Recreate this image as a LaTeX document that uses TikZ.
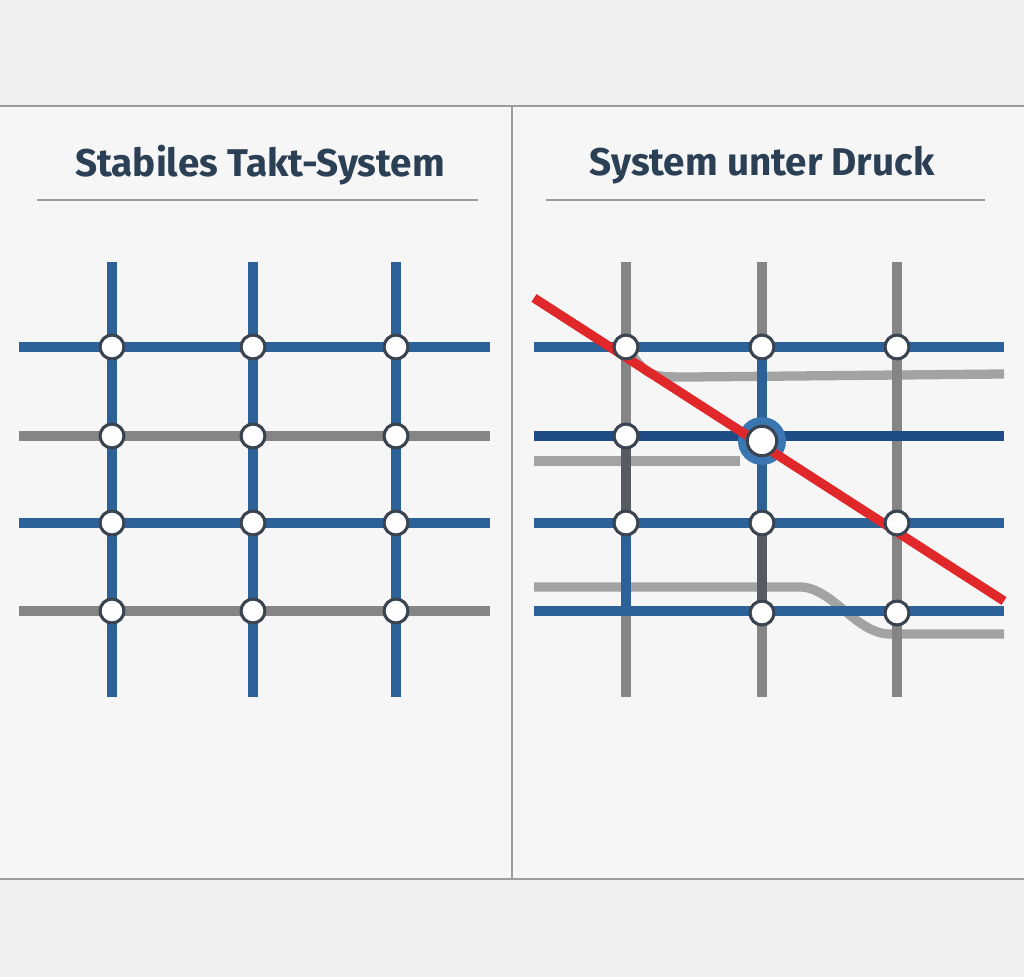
\documentclass[tikz,border=0pt]{standalone}
\usepackage{fontspec}
\setmainfont{Fira Sans}
\usetikzlibrary{positioning}
\definecolor{bandgray}{HTML}{EFEFEF}
\definecolor{panelgray}{HTML}{F6F6F6}
\definecolor{framegray}{HTML}{9C9C9C}
\definecolor{titlenavy}{HTML}{2B3F55}
\definecolor{lineblue}{HTML}{2D6298}
\definecolor{deepblue}{HTML}{1F4C84}
\definecolor{halo}{HTML}{3A76B2}
\definecolor{linegray}{HTML}{858585}
\definecolor{softgray}{HTML}{A3A3A3}
\definecolor{darkgray}{HTML}{565B62}
\definecolor{ringgray}{HTML}{3A4450}
\definecolor{alarm}{HTML}{E0282A}
\tikzset{
  track/.style={line width=6.6pt},
  station/.style={circle,fill=white,draw=ringgray,line width=2.2pt,minimum size=17pt,inner sep=0pt},
  title/.style={text=titlenavy,font=\fontsize{27.5}{32}\selectfont\bfseries},
  rule/.style={draw=framegray,line width=1pt}
}
\begin{document}
\begin{tikzpicture}[x=0.025cm,y=-0.025cm]
  \useasboundingbox (0,0) rectangle (1024,977);
  % background and frame
  \fill[bandgray] (0,0) rectangle (1024,977);
  \fill[panelgray] (0,106) rectangle (1024,879);
  \draw[framegray,line width=1.4pt] (0,106) -- (1024,106);
  \draw[framegray,line width=1.4pt] (0,879) -- (1024,879);
  \draw[framegray,line width=1.4pt] (512,106) -- (512,879);
  % titles
  \node[title] (titleL) at (260,165) {Stabiles Takt-System};
  \node[title] (titleR) at (762,165) {System unter Druck};
  \draw[rule] (37,200) -- (478,200);
  \draw[rule] (546,200) -- (985,200);

  % left: stable grid
  \foreach \x [count=\i] in {112,253,396} {
    \coordinate (LT\i) at (\x,262);
    \coordinate (LB\i) at (\x,697);
    \draw[track,lineblue] (LT\i) -- (LB\i);
  }
  \foreach \y/\c [count=\j] in {347/lineblue,436/linegray,523/lineblue,611/linegray} {
    \coordinate (LW\j) at (19,\y);
    \coordinate (LE\j) at (490,\y);
    \draw[track,\c] (LW\j) -- (LE\j);
  }
  \foreach \x [count=\i] in {112,253,396}
    \foreach \y [count=\j] in {347,436,523,611}
      \node[station] (L\i\j) at (\x,\y) {};

  % right: system under pressure
  \coordinate (RW1) at (534,347); \coordinate (RE1) at (1004,347);
  \coordinate (RW2) at (534,436); \coordinate (RE2) at (1004,436);
  \coordinate (RW3) at (534,523); \coordinate (RE3) at (1004,523);
  \coordinate (RW4) at (534,611); \coordinate (RE4) at (1004,611);
  % bypass tracks
  \draw[track,softgray] (626,347) .. controls (648,377) .. (690,377) -- (1004,374);
  \draw[track,softgray] (534,461) -- (740,461);
  \draw[track,softgray] (534,587) -- (800,587) .. controls (832,587) and (856,634) .. (890,634) -- (1004,634);
  % verticals
  \draw[track,linegray] (626,262) -- (626,697);
  \draw[track,darkgray] (626,436) -- (626,523);
  \draw[track,lineblue] (626,523) -- (626,611);
  \draw[track,linegray] (762,262) -- (762,697);
  \draw[track,lineblue] (762,347) -- (762,523);
  \draw[track,darkgray] (762,523) -- (762,611);
  \draw[track,linegray] (897,262) -- (897,697);
  % horizontals
  \draw[track,lineblue] (RW1) -- (RE1);
  \draw[track,deepblue] (RW2) -- (RE2);
  \draw[track,lineblue] (RW3) -- (RE3);
  \draw[track,lineblue] (RW4) -- (RE4);
  % overloaded hub
  \fill[halo] (762,441) circle (24);
  % disruption
  \coordinate (cutA) at (534,298);
  \coordinate (cutB) at (1004,601);
  \draw[track,alarm] (cutA) -- (cutB);
  % stations
  \node[station] (R11) at (626,347) {};
  \node[station] (R21) at (762,347) {};
  \node[station] (R31) at (897,347) {};
  \node[station] (R12) at (626,436) {};
  \node[station,minimum size=21pt] (hub) at (762,441) {};
  \node[station] (R13) at (626,523) {};
  \node[station] (R23) at (762,523) {};
  \node[station] (R33) at (897,523) {};
  \node[station] (R24) at (762,613) {};
  \node[station] (R34) at (897,613) {};
\end{tikzpicture}
\end{document}
